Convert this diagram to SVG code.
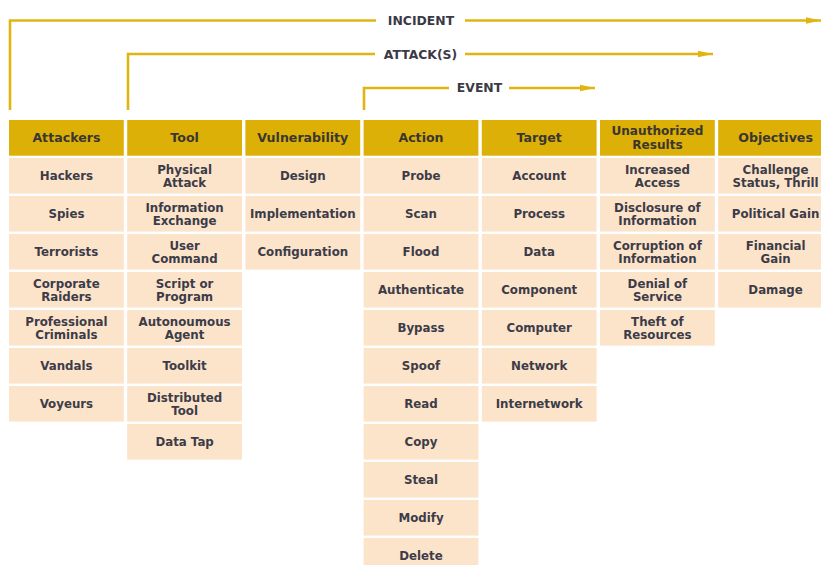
<svg xmlns="http://www.w3.org/2000/svg" width="821" height="565" viewBox="0 0 821 565">
  <defs>
    <style>
      .hd { fill: #DCB006; }
      .cell { fill: #FCE4CB; }
      text { font-family: "DejaVu Sans", "Verdana", sans-serif; font-weight: bold; text-anchor: middle; }
      .ht { font-size: 12.6px; fill: #3a3630; }
      .ht2 { font-size: 12.1px; fill: #3a3630; }
      .ct { font-size: 11.8px; fill: #3c3c48; }
      .lbl { font-size: 12.4px; fill: #3a3a46; }
      .conn { fill: none; stroke: #E0B512; stroke-width: 2.6; }
    </style>
    <marker id="arrow" markerUnits="userSpaceOnUse" markerWidth="16" markerHeight="8" viewBox="0 -4 16 8" refX="15" refY="0" orient="auto">
      <path d="M0,-3.2 L15,0 L0,3.2 z" fill="#E0B512"/>
    </marker>
  </defs>
  <rect width="821" height="565" fill="#ffffff"/>

  <!-- scope brackets -->
  <g id="connectors">
    <path class="conn" d="M10,110 V20.5 H376"/>
    <path class="conn" d="M465,20.5 H821" marker-end="url(#arrow)"/>
    <path class="conn" d="M128,110 V54 H375"/>
    <path class="conn" d="M465,54 H713" marker-end="url(#arrow)"/>
    <path class="conn" d="M364,110 V88 H449"/>
    <path class="conn" d="M509,88 H595" marker-end="url(#arrow)"/>
  </g>
  <g id="label-incident"><text class="lbl" x="421" y="25">INCIDENT</text></g>
  <g id="label-attacks"><text class="lbl" x="420.5" y="58.5">ATTACK(S)</text></g>
  <g id="label-event"><text class="lbl" x="479.5" y="92">EVENT</text></g>

  <!-- column headers -->
  <g id="hd-attackers"><rect class="hd" x="9" y="120" width="114.8" height="35.7"/><text class="ht" x="66.4" y="142.4">Attackers</text></g>
  <g id="hd-tool"><rect class="hd" x="127.2" y="120" width="114.8" height="35.7"/><text class="ht" x="184.6" y="142.4">Tool</text></g>
  <g id="hd-vulnerability"><rect class="hd" x="245.4" y="120" width="114.8" height="35.7"/><text class="ht" x="302.8" y="142.4">Vulnerability</text></g>
  <g id="hd-action"><rect class="hd" x="363.6" y="120" width="114.8" height="35.7"/><text class="ht" x="421" y="142.4">Action</text></g>
  <g id="hd-target"><rect class="hd" x="481.8" y="120" width="114.8" height="35.7"/><text class="ht" x="539.2" y="142.4">Target</text></g>
  <g id="hd-results"><rect class="hd" x="600" y="120" width="114.8" height="35.7"/><text class="ht2" x="657.4" y="135.4">Unauthorized<tspan x="657.4" y="148.8">Results</tspan></text></g>
  <g id="hd-objectives"><rect class="hd" x="718.2" y="120" width="114.8" height="35.7"/><text class="ht" x="775.6" y="142.4">Objectives</text></g>

  <!-- Attackers -->
  <g id="attackers-hackers"><rect class="cell" x="9" y="158" width="114.8" height="35.6"/><text class="ct" x="66.4" y="180.1">Hackers</text></g>
  <g id="attackers-spies"><rect class="cell" x="9" y="196" width="114.8" height="35.6"/><text class="ct" x="66.4" y="218.1">Spies</text></g>
  <g id="attackers-terrorists"><rect class="cell" x="9" y="234" width="114.8" height="35.6"/><text class="ct" x="66.4" y="256.1">Terrorists</text></g>
  <g id="attackers-raiders"><rect class="cell" x="9" y="272" width="114.8" height="35.6"/><text class="ct" x="66.4" y="287.5">Corporate<tspan x="66.4" y="300.5">Raiders</tspan></text></g>
  <g id="attackers-criminals"><rect class="cell" x="9" y="310" width="114.8" height="35.6"/><text class="ct" x="66.4" y="325.5">Professional<tspan x="66.4" y="338.5">Criminals</tspan></text></g>
  <g id="attackers-vandals"><rect class="cell" x="9" y="348" width="114.8" height="35.6"/><text class="ct" x="66.4" y="370.1">Vandals</text></g>
  <g id="attackers-voyeurs"><rect class="cell" x="9" y="386" width="114.8" height="35.6"/><text class="ct" x="66.4" y="408.1">Voyeurs</text></g>

  <!-- Tool -->
  <g id="tool-physical"><rect class="cell" x="127.2" y="158" width="114.8" height="35.6"/><text class="ct" x="184.6" y="173.5">Physical<tspan x="184.6" y="186.5">Attack</tspan></text></g>
  <g id="tool-exchange"><rect class="cell" x="127.2" y="196" width="114.8" height="35.6"/><text class="ct" x="184.6" y="211.5">Information<tspan x="184.6" y="224.5">Exchange</tspan></text></g>
  <g id="tool-command"><rect class="cell" x="127.2" y="234" width="114.8" height="35.6"/><text class="ct" x="184.6" y="249.5">User<tspan x="184.6" y="262.5">Command</tspan></text></g>
  <g id="tool-script"><rect class="cell" x="127.2" y="272" width="114.8" height="35.6"/><text class="ct" x="184.6" y="287.5">Script or<tspan x="184.6" y="300.5">Program</tspan></text></g>
  <g id="tool-agent"><rect class="cell" x="127.2" y="310" width="114.8" height="35.6"/><text class="ct" x="184.6" y="325.5">Autonoumous<tspan x="184.6" y="338.5">Agent</tspan></text></g>
  <g id="tool-toolkit"><rect class="cell" x="127.2" y="348" width="114.8" height="35.6"/><text class="ct" x="184.6" y="370.1">Toolkit</text></g>
  <g id="tool-distributed"><rect class="cell" x="127.2" y="386" width="114.8" height="35.6"/><text class="ct" x="184.6" y="401.5">Distributed<tspan x="184.6" y="414.5">Tool</tspan></text></g>
  <g id="tool-datatap"><rect class="cell" x="127.2" y="424" width="114.8" height="35.6"/><text class="ct" x="184.6" y="446.1">Data Tap</text></g>

  <!-- Vulnerability -->
  <g id="vuln-design"><rect class="cell" x="245.4" y="158" width="114.8" height="35.6"/><text class="ct" x="302.8" y="180.1">Design</text></g>
  <g id="vuln-implementation"><rect class="cell" x="245.4" y="196" width="114.8" height="35.6"/><text class="ct" x="302.8" y="218.1">Implementation</text></g>
  <g id="vuln-configuration"><rect class="cell" x="245.4" y="234" width="114.8" height="35.6"/><text class="ct" x="302.8" y="256.1">Configuration</text></g>

  <!-- Action -->
  <g id="action-probe"><rect class="cell" x="363.6" y="158" width="114.8" height="35.6"/><text class="ct" x="421" y="180.1">Probe</text></g>
  <g id="action-scan"><rect class="cell" x="363.6" y="196" width="114.8" height="35.6"/><text class="ct" x="421" y="218.1">Scan</text></g>
  <g id="action-flood"><rect class="cell" x="363.6" y="234" width="114.8" height="35.6"/><text class="ct" x="421" y="256.1">Flood</text></g>
  <g id="action-authenticate"><rect class="cell" x="363.6" y="272" width="114.8" height="35.6"/><text class="ct" x="421" y="294.1">Authenticate</text></g>
  <g id="action-bypass"><rect class="cell" x="363.6" y="310" width="114.8" height="35.6"/><text class="ct" x="421" y="332.1">Bypass</text></g>
  <g id="action-spoof"><rect class="cell" x="363.6" y="348" width="114.8" height="35.6"/><text class="ct" x="421" y="370.1">Spoof</text></g>
  <g id="action-read"><rect class="cell" x="363.6" y="386" width="114.8" height="35.6"/><text class="ct" x="421" y="408.1">Read</text></g>
  <g id="action-copy"><rect class="cell" x="363.6" y="424" width="114.8" height="35.6"/><text class="ct" x="421" y="446.1">Copy</text></g>
  <g id="action-steal"><rect class="cell" x="363.6" y="462" width="114.8" height="35.6"/><text class="ct" x="421" y="484.1">Steal</text></g>
  <g id="action-modify"><rect class="cell" x="363.6" y="500" width="114.8" height="35.6"/><text class="ct" x="421" y="522.1">Modify</text></g>
  <g id="action-delete"><rect class="cell" x="363.6" y="538" width="114.8" height="35.6"/><text class="ct" x="421" y="560.1">Delete</text></g>

  <!-- Target -->
  <g id="target-account"><rect class="cell" x="481.8" y="158" width="114.8" height="35.6"/><text class="ct" x="539.2" y="180.1">Account</text></g>
  <g id="target-process"><rect class="cell" x="481.8" y="196" width="114.8" height="35.6"/><text class="ct" x="539.2" y="218.1">Process</text></g>
  <g id="target-data"><rect class="cell" x="481.8" y="234" width="114.8" height="35.6"/><text class="ct" x="539.2" y="256.1">Data</text></g>
  <g id="target-component"><rect class="cell" x="481.8" y="272" width="114.8" height="35.6"/><text class="ct" x="539.2" y="294.1">Component</text></g>
  <g id="target-computer"><rect class="cell" x="481.8" y="310" width="114.8" height="35.6"/><text class="ct" x="539.2" y="332.1">Computer</text></g>
  <g id="target-network"><rect class="cell" x="481.8" y="348" width="114.8" height="35.6"/><text class="ct" x="539.2" y="370.1">Network</text></g>
  <g id="target-internetwork"><rect class="cell" x="481.8" y="386" width="114.8" height="35.6"/><text class="ct" x="539.2" y="408.1">Internetwork</text></g>

  <!-- Unauthorized Results -->
  <g id="results-access"><rect class="cell" x="600" y="158" width="114.8" height="35.6"/><text class="ct" x="657.4" y="173.5">Increased<tspan x="657.4" y="186.5">Access</tspan></text></g>
  <g id="results-disclosure"><rect class="cell" x="600" y="196" width="114.8" height="35.6"/><text class="ct" x="657.4" y="211.5">Disclosure of<tspan x="657.4" y="224.5">Information</tspan></text></g>
  <g id="results-corruption"><rect class="cell" x="600" y="234" width="114.8" height="35.6"/><text class="ct" x="657.4" y="249.5">Corruption of<tspan x="657.4" y="262.5">Information</tspan></text></g>
  <g id="results-denial"><rect class="cell" x="600" y="272" width="114.8" height="35.6"/><text class="ct" x="657.4" y="287.5">Denial of<tspan x="657.4" y="300.5">Service</tspan></text></g>
  <g id="results-theft"><rect class="cell" x="600" y="310" width="114.8" height="35.6"/><text class="ct" x="657.4" y="325.5">Theft of<tspan x="657.4" y="338.5">Resources</tspan></text></g>

  <!-- Objectives -->
  <g id="obj-challenge"><rect class="cell" x="718.2" y="158" width="114.8" height="35.6"/><text class="ct" x="775.6" y="173.5">Challenge<tspan x="775.6" y="186.5">Status, Thrill</tspan></text></g>
  <g id="obj-political"><rect class="cell" x="718.2" y="196" width="114.8" height="35.6"/><text class="ct" x="775.6" y="218.1">Political Gain</text></g>
  <g id="obj-financial"><rect class="cell" x="718.2" y="234" width="114.8" height="35.6"/><text class="ct" x="775.6" y="249.5">Financial<tspan x="775.6" y="262.5">Gain</tspan></text></g>
  <g id="obj-damage"><rect class="cell" x="718.2" y="272" width="114.8" height="35.6"/><text class="ct" x="775.6" y="294.1">Damage</text></g>
</svg>
